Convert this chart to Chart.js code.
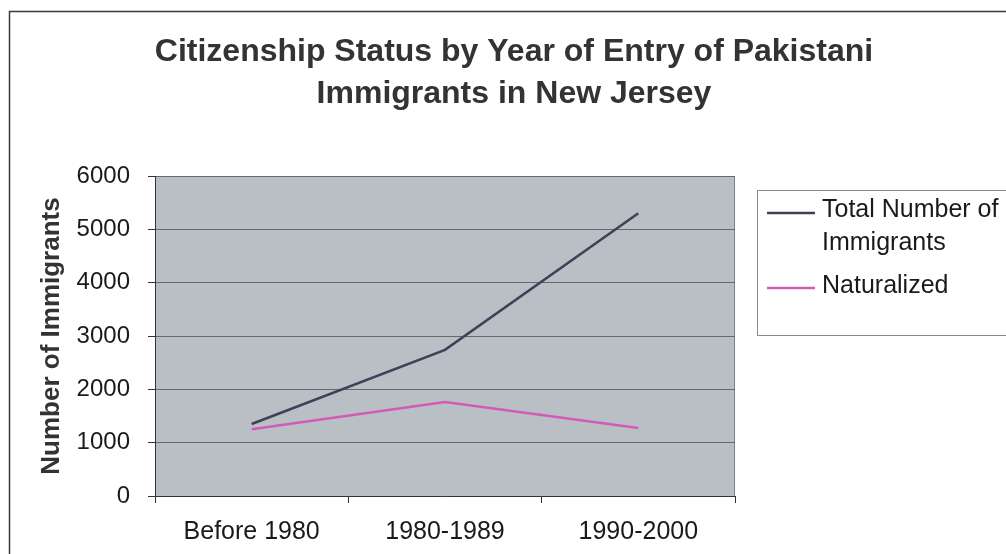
<!DOCTYPE html>
<html>
<head>
<meta charset="utf-8">
<script src="https://cdn.jsdelivr.net/npm/chart.js@4.4.1/dist/chart.umd.min.js"></script>
<style>
  html, body { margin: 0; padding: 0; background: #ffffff; }
  #wrap { width: 1006px; height: 554px; position: relative; }
</style>
</head>
<body>
<div id="wrap"><canvas id="chart" width="1006" height="554"></canvas></div>
<script>
// Periods of entry
const categories = ['Before 1980', '1980-1989', '1990-2000'];
// Pakistani immigrants in New Jersey, by period of entry
const totalImmigrants = [1350, 2740, 5300];
const naturalized = [1250, 1760, 1275];
// Text
const titleLines = ['Citizenship Status by Year of Entry of Pakistani', 'Immigrants in New Jersey'];
const yAxisTitle = 'Number of Immigrants';
const legendLines = [['Total Number of', 'Immigrants'], ['Naturalized']];
// Y axis range
const yMin = 0;
const yMax = 6000;
const yStep = 1000;

const FONT = '"Liberation Sans", Arial, Helvetica, sans-serif';

// Grey plot background, outer frame, title and the boxed legend
const decorPlugin = {
  id: 'decor',
  beforeDraw(chart) {
    const { ctx, chartArea: a } = chart;
    ctx.save();
    ctx.fillStyle = '#b9bfc4';
    ctx.fillRect(a.left, a.top, a.right - a.left, a.bottom - a.top);
    ctx.strokeStyle = '#7d8186';
    ctx.lineWidth = 1;
    ctx.beginPath();
    ctx.moveTo(a.right - 0.5, a.top);
    ctx.lineTo(a.right - 0.5, a.bottom);
    ctx.stroke();
    ctx.restore();
  },
  afterDraw(chart) {
    const { ctx } = chart;
    ctx.save();
    // frame
    ctx.strokeStyle = '#3a3a3a';
    ctx.lineWidth = 1.5;
    ctx.beginPath();
    ctx.moveTo(9.5, 560);
    ctx.lineTo(9.5, 11.5);
    ctx.lineTo(1012, 11.5);
    ctx.stroke();

    // title
    ctx.fillStyle = '#333333';
    ctx.font = 'bold 32px ' + FONT;
    ctx.textAlign = 'center';
    ctx.textBaseline = 'alphabetic';
    ctx.fillText(titleLines[0], 514, 61);
    ctx.fillText(titleLines[1], 514, 103);

    // legend box
    ctx.strokeStyle = '#8a8a8a';
    ctx.lineWidth = 1;
    ctx.strokeRect(757.5, 190.5, 260, 145);

    const ds = chart.data.datasets;
    const rows = [{ lineY: 213, baselines: [217, 250] }, { lineY: 288, baselines: [293] }];
    ctx.font = '25px ' + FONT;
    ctx.textAlign = 'left';
    rows.forEach((r, i) => {
      ctx.strokeStyle = ds[i].borderColor;
      ctx.lineWidth = 2.5;
      ctx.beginPath();
      ctx.moveTo(767, r.lineY);
      ctx.lineTo(815, r.lineY);
      ctx.stroke();
      ctx.fillStyle = '#1a1a1a';
      legendLines[i].forEach((t, k) => ctx.fillText(t, 822, r.baselines[k]));
    });
    ctx.restore();
  }
};

new Chart(document.getElementById('chart'), {
  type: 'line',
  data: {
    labels: categories,
    datasets: [
      {
        label: legendLines[0].join(' '),
        data: totalImmigrants,
        borderColor: '#3f4159',
        borderWidth: 2.5,
        pointRadius: 0,
        tension: 0,
        fill: false
      },
      {
        label: legendLines[1].join(' '),
        data: naturalized,
        borderColor: '#d55ab8',
        borderWidth: 2.5,
        pointRadius: 0,
        tension: 0,
        fill: false
      }
    ]
  },
  options: {
    responsive: false,
    animation: false,
    layout: { padding: { left: 30, right: 271, top: 176, bottom: 7 } },
    plugins: {
      legend: { display: false },
      title: { display: false },
      tooltip: { enabled: false }
    },
    scales: {
      x: {
        type: 'category',
        offset: true,
        afterFit(scale) { scale.height = 51; },
        grid: {
          offset: true,
          drawOnChartArea: false,
          drawTicks: true,
          tickLength: 7,
          tickColor: '#333333'
        },
        border: { display: true, color: '#333333', width: 1 },
        ticks: {
          color: '#1a1a1a',
          font: { family: FONT, size: 25 },
          padding: 14,
          maxRotation: 0
        }
      },
      y: {
        min: yMin,
        max: yMax,
        afterFit(scale) { scale.width = 125; },
        grid: {
          color: '#65686d',
          lineWidth: 1,
          drawTicks: true,
          tickLength: 7,
          tickColor: '#333333'
        },
        border: { display: true, color: '#333333', width: 1 },
        ticks: {
          stepSize: yStep,
          color: '#1a1a1a',
          font: { family: FONT, size: 24 },
          padding: 18,
          callback: (v) => String(v)
        },
        title: {
          display: true,
          text: yAxisTitle,
          color: '#333333',
          font: { family: FONT, size: 26, weight: 'bold' },
          padding: { top: 6, bottom: 0 }
        }
      }
    }
  },
  plugins: [decorPlugin]
});
</script>
</body>
</html>
